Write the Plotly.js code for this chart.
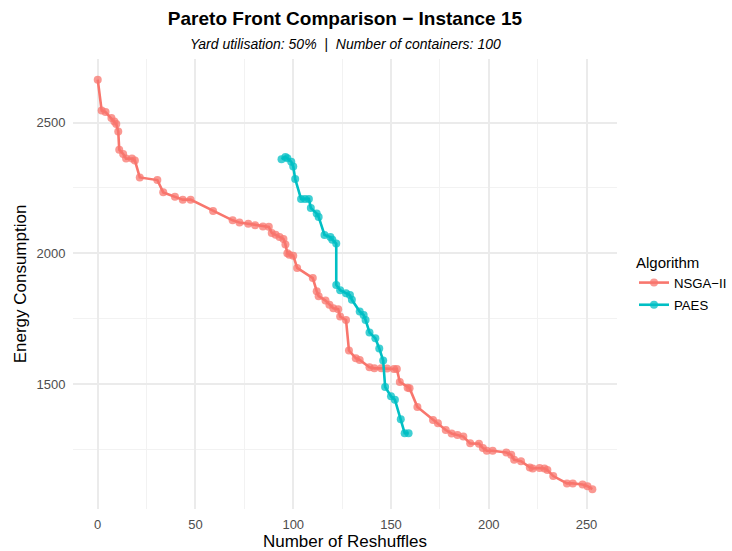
<!DOCTYPE html>
<html>
<head>
<meta charset="utf-8">
<script src="https://cdn.plot.ly/plotly-3.0.1.min.js"></script>
<style>html,body{margin:0;padding:0;background:#fff;}#chart{width:732px;height:551px;}</style>
</head>
<body>
<div id="chart"></div>
<script>
const nsgaX = [0,2,4,7,8.5,9.5,10.5,11,13,14.5,17.5,19,21.5,30.5,33.5,39.5,43.5,47.5,59,69,72.5,77,80.5,84.5,87.5,89,91,93,95,96,97,98,100,102,110,112,113,116.5,118.5,120.5,123,124,127,128.5,132,134,139,141.5,145,148,151.5,153,154.5,158.5,159.5,163.5,171.5,174,178,181,184,187,190.5,195,197,199,202,209,211.5,213,216.5,221,222.5,226,228.5,230,233,240,243,248,250.5,253];
const nsgaY = [2664,2546,2540,2517,2504,2494,2466,2396,2380,2362,2362,2355,2290,2280,2233,2216,2205,2205,2162,2126,2118,2113,2107,2102,2101,2078,2071,2062,2055,2034,2000,1994,1991,1944,1905,1855,1836,1819,1803,1790,1786,1758,1745,1628,1599,1592,1564,1560,1560,1559,1557,1557,1508,1486,1484,1412,1362,1350,1324,1311,1305,1299,1273,1272,1255,1245,1245,1238,1229,1210,1205,1181,1177,1179,1177,1171,1148,1120,1120,1116,1109,1098];
const paesX = [94,96,97,99,100,101,104,106,108,109,112,113,116,119,120,122,122,124,127,129,130,134,136,137,139,142,144,146,147,150,152,155,157,159];
const paesY = [2360,2368,2363,2350,2332,2284,2208,2208,2208,2173,2152,2139,2070,2062,2052,2037,1879,1859,1847,1840,1822,1777,1764,1745,1697,1675,1636,1590,1489,1453,1440,1365,1312,1312];
const seriesNames = ["NSGA\u2212II","PAES"];
const colors = ["#F8766D","#00BFC4"];

const FONT = "Liberation Sans, Arial, Helvetica, sans-serif";
function trace(x,y,name,color){
  return {x:x,y:y,name:name,legendgroup:name,type:'scatter',mode:'lines+markers',
    line:{color:color,width:2.6},
    marker:{color:color,size:8,opacity:0.75},
    hoverinfo:'x+y+name'};
}
const data = [trace(nsgaX,nsgaY,seriesNames[0],colors[0]), trace(paesX,paesY,seriesNames[1],colors[1])];

const gridMajor = '#EBEBEB', gridMinor = '#F2F2F2';
const layout = {
  width:732,height:551,
  paper_bgcolor:'#fff',plot_bgcolor:'#fff',
  margin:{l:73,r:115,t:59,b:42,pad:0},
  font:{family:FONT,color:'#000'},
  title:{text:'<b>Pareto Front Comparison \u2212 Instance 15</b>',font:{size:19,family:FONT,color:'#000'},
    x:0.4713,xanchor:'center',xref:'container',y:1-18/551,yref:'container',yanchor:'middle'},
  annotations:[{text:'<i>Yard utilisation: 50%  |  Number of containers: 100</i>',xref:'paper',yref:'paper',
    x:0.5,y:1+(59-44)/450,xanchor:'center',yanchor:'middle',showarrow:false,font:{size:14,family:FONT,color:'#000'}}],
  xaxis:{range:[-12.65,265.6],tick0:0,dtick:50,zeroline:false,showline:false,
    showgrid:true,gridcolor:gridMajor,gridwidth:2,
    minor:{dtick:25,tick0:0,showgrid:true,gridcolor:gridMinor,gridwidth:1},
    ticks:'outside',ticklen:3,tickcolor:'rgba(0,0,0,0)',
    tickfont:{size:13,color:'#4D4D4D',family:FONT},
    title:{text:'Number of Reshuffles',font:{size:17,color:'#000',family:FONT},standoff:5}},
  yaxis:{range:[1022,2743],tick0:0,dtick:500,zeroline:false,showline:false,
    showgrid:true,gridcolor:gridMajor,gridwidth:2,
    minor:{dtick:250,tick0:0,showgrid:true,gridcolor:gridMinor,gridwidth:1},
    ticks:'outside',ticklen:4,tickcolor:'rgba(0,0,0,0)',
    tickfont:{size:13,color:'#4D4D4D',family:FONT},
    title:{text:'Energy Consumption',font:{size:17,color:'#000',family:FONT},standoff:5}},
  legend:{title:{text:'Algorithm',font:{size:15,color:'#000',family:FONT}},
    xref:'container',yref:'container',
    x:634/732,xanchor:'left',y:1-284/551,yanchor:'middle',font:{size:13.2,color:'#000',family:FONT},
    bgcolor:'rgba(0,0,0,0)',itemwidth:30,traceorder:'grouped',tracegroupgap:2},
  showlegend:true
};
Plotly.newPlot('chart',data,layout,{displayModeBar:false,staticPlot:true});
</script>
</body>
</html>
